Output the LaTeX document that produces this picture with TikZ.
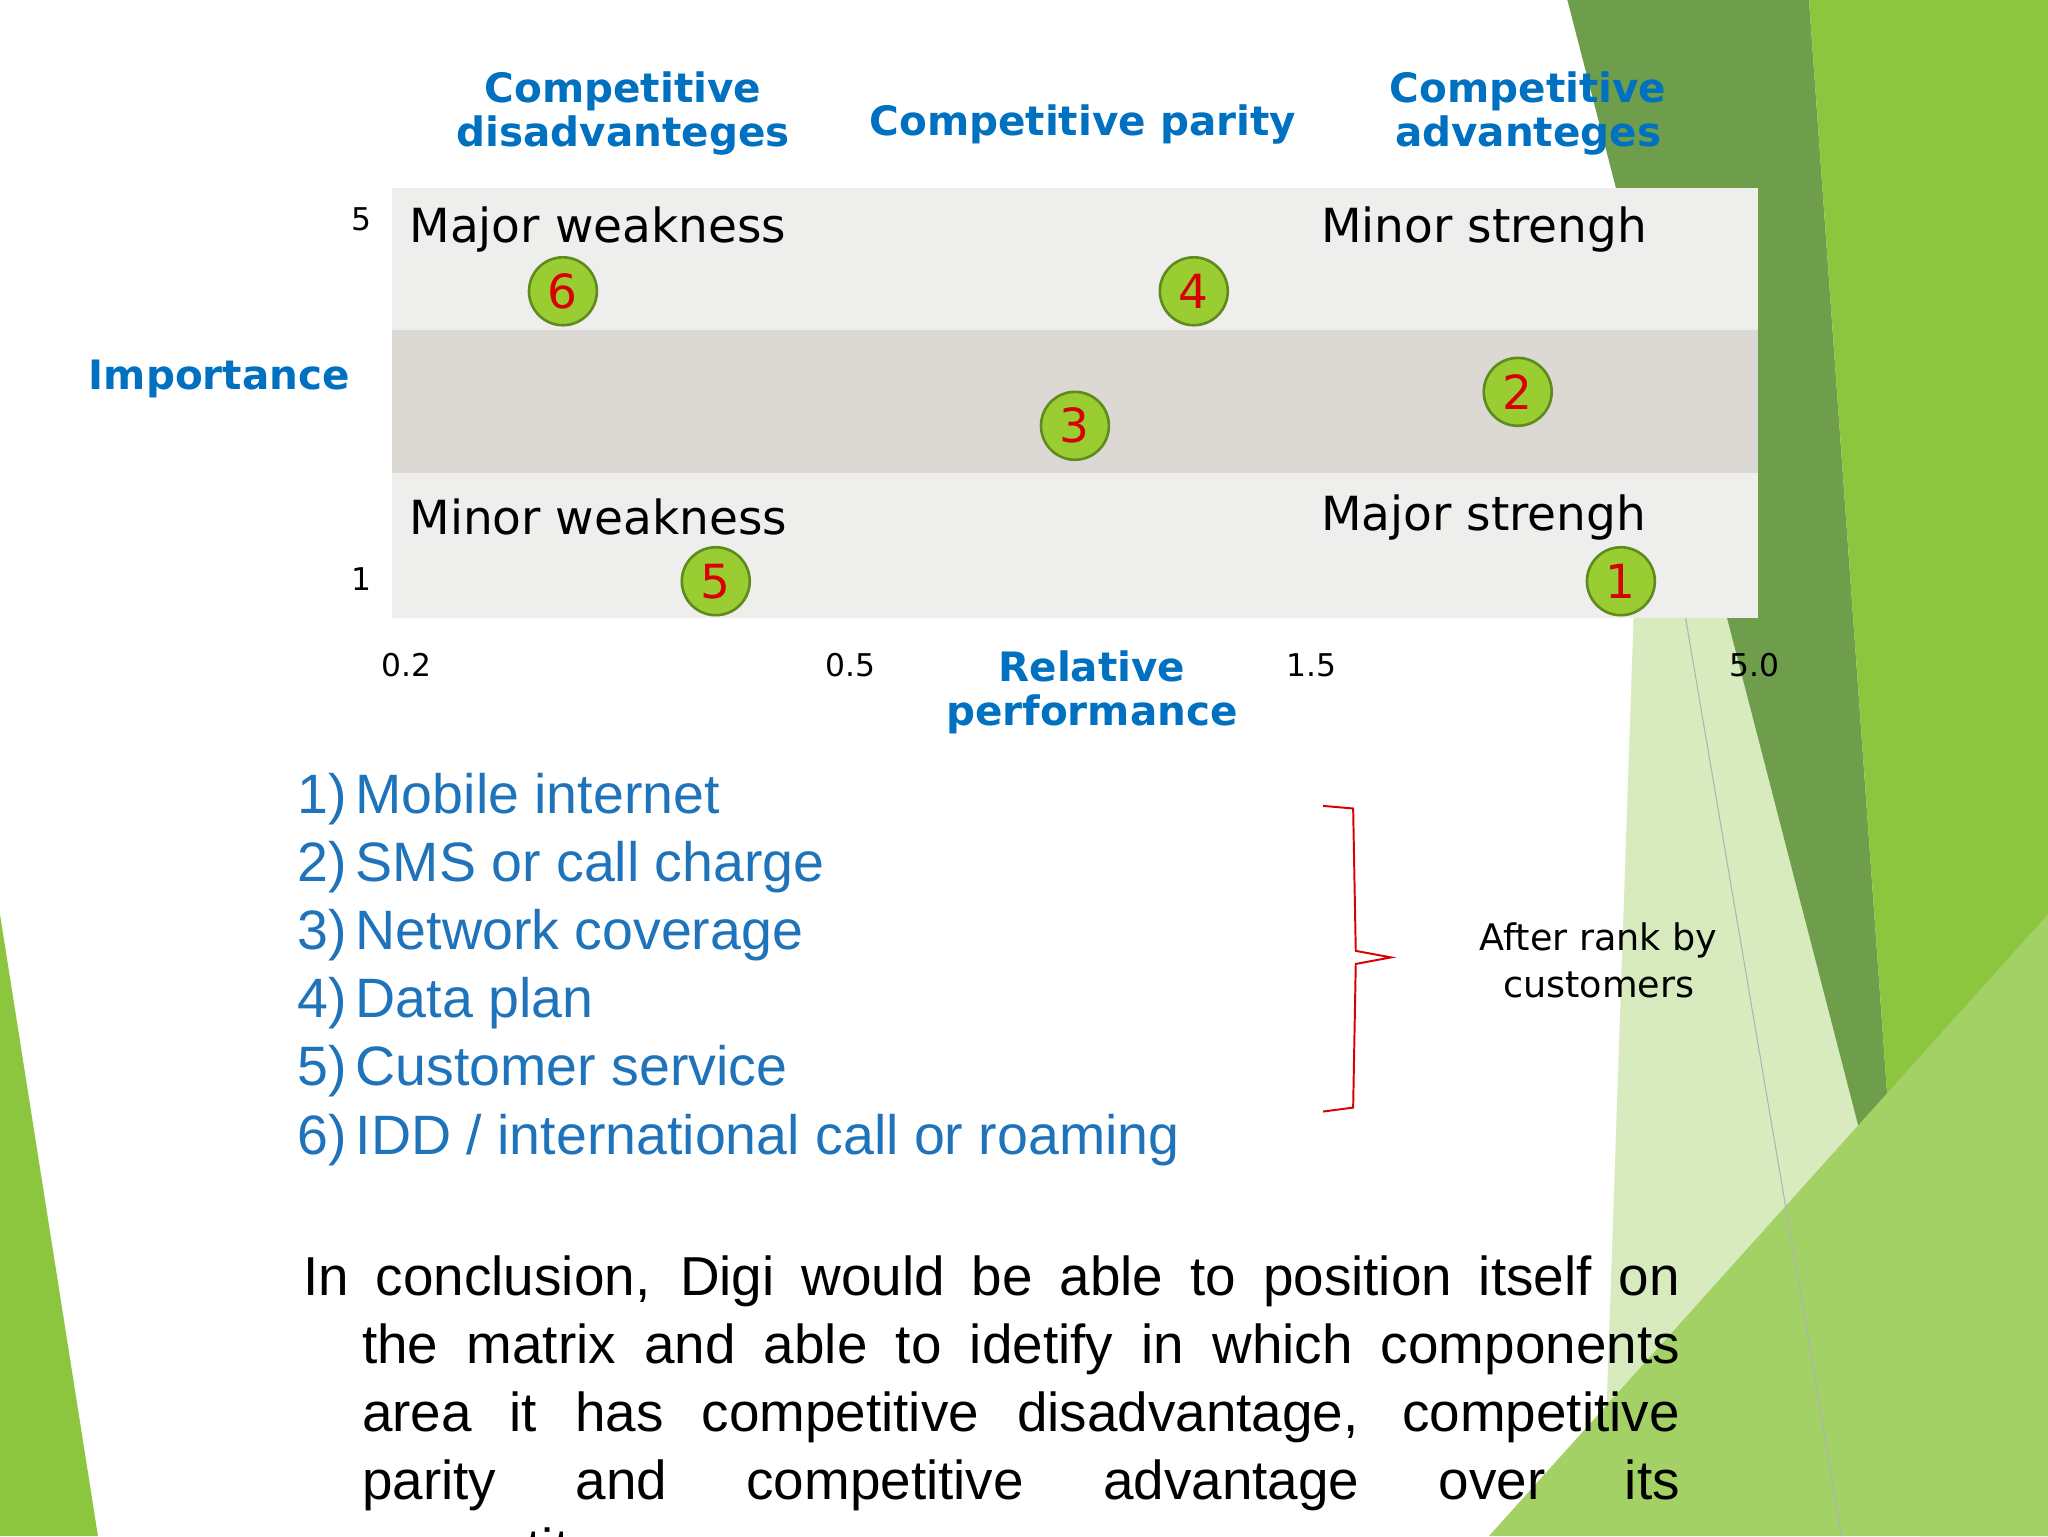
\documentclass[tikz,border=0pt]{standalone}
\usepackage{fontspec}
\setmainfont{Liberation Sans}
\newfontfamily\dv{DejaVu Sans}
\definecolor{hblue}{HTML}{0070C0}
\definecolor{lblue}{HTML}{1F73BA}
\definecolor{bandA}{HTML}{EEEEEC}
\definecolor{bandB}{HTML}{DCD9D5}
\definecolor{cfill}{HTML}{9ACD32}
\definecolor{cdraw}{HTML}{5E8A1E}
\definecolor{gA}{HTML}{6E9E4C}
\definecolor{gB}{HTML}{8CC63F}
\definecolor{gC}{HTML}{D8EBBE}
\begin{document}
\begin{tikzpicture}[x=1pt,y=-1pt,
  hdr/.style={font=\dv\bfseries\fontsize{31}{37}\selectfont,text=hblue,align=center},
  qlab/.style={font=\dv\fontsize{36}{40}\selectfont,anchor=west},
  ax/.style={font=\dv\fontsize{24}{28}\selectfont},
  dot/.style={circle,minimum size=52pt,inner sep=0,fill=cfill,draw=cdraw,line width=2pt,text=red!85!black,font=\dv\fontsize{36}{40}\selectfont},
  item/.style={font=\fontsize{42.5}{46}\selectfont,text=lblue,anchor=west},
  cl/.style={anchor=base west,inner sep=0,font=\fontsize{42}{48}\selectfont}]
\useasboundingbox (0,0) rectangle (1568,1176);
\clip (0,0) rectangle (1568,1176);
\fill[white] (0,0) rectangle (1568,1176);
% decorations
\fill[gC] (1260,200) -- (1440,900) -- (1230,1080) -- cycle;
\fill[gA] (1200,0) -- (1385,0) -- (1450,910) -- (1430,890) -- cycle;
\fill[gB] (1385,0) -- (1568,0) -- (1568,1176) -- (1470,1176) -- (1450,910) -- cycle;
\fill[gB!80!white] (1140,1176) -- (1568,700) -- (1568,1176) -- cycle;
\fill[gB] (0,700) -- (75,1176) -- (0,1176) -- cycle;
\draw[gray!60,line width=0.8pt] (1290,470) -- (1410,1176);
% bands
\fill[bandA] (300,144) rectangle (1346,253);
\fill[bandB] (300,253) rectangle (1346,362);
\fill[bandA] (300,362) rectangle (1346,473);
% headers
\node[hdr] (h1) at (477,87) {Competitive\\[-3pt]disadvanteges};
\node[hdr] (h2) at (829,95) {Competitive parity};
\node[hdr] (h3) at (1170,87) {Competitive\\[-3pt]advanteges};
\node[hdr] (imp) at (168,290) {Importance};
\node[hdr] (rp) at (836,530) {Relative\\[-3pt]performance};
% quadrant labels
\node[qlab] (q1) at (310,176) {Major weakness};
\node[qlab] (q2) at (1008,176) {Minor strengh};
\node[qlab] (q3) at (310,396) {Minor weakness};
\node[qlab] (q4) at (1008,396) {Major strengh};
% axes
\node[ax] (y5) at (277,168) {5};
\node[ax] (y1) at (277,443) {1};
\node[ax] (x1) at (311,509) {0.2};
\node[ax] (x2) at (651,509) {0.5};
\node[ax] (x3) at (1004,509) {1.5};
\node[ax] (x4) at (1343,509) {5.0};
% dots
\node[dot] (d6) at (431,223) {6};
\node[dot] (d4) at (914,223) {4};
\node[dot] (d3) at (823,326) {3};
\node[dot] (d2) at (1162,300) {2};
\node[dot] (d5) at (548,445) {5};
\node[dot] (d1) at (1241,445) {1};
% list
\node[item] (l1) at (224,612) {1)\,Mobile internet};
\node[item] (l2) at (224,664) {2)\,SMS or call charge};
\node[item] (l3) at (224,716) {3)\,Network coverage};
\node[item] (l4) at (224,768) {4)\,Data plan};
\node[item] (l5) at (224,820) {5)\,Customer service};
\node[item] (l6) at (224,873) {6)\,IDD / international call or roaming};
% bracket
\draw[red!85!black,line width=1.5pt] (1013,617) -- (1036,619) -- (1038,728) -- (1065,733) -- (1038,738) -- (1036,848) -- (1013,851);
\node[font=\dv\fontsize{28}{36}\selectfont,align=center] (note) at (1224,735) {After rank by\\customers};
% conclusion
\node[cl] (c1) at (232,992) {\makebox[1054pt][s]{In conclusion, Digi would be able to position itself on}};
\node[cl] (c2) at (277,1044) {\makebox[1009pt][s]{the matrix and able to idetify in which components}};
\node[cl] (c3) at (277,1096) {\makebox[1009pt][s]{area it has competitive disadvantage, competitive}};
\node[cl] (c4) at (277,1148) {\makebox[1009pt][s]{parity and competitive advantage over its}};
\node[cl] (c5) at (277,1200) {competitors.};
\end{tikzpicture}
\end{document}
